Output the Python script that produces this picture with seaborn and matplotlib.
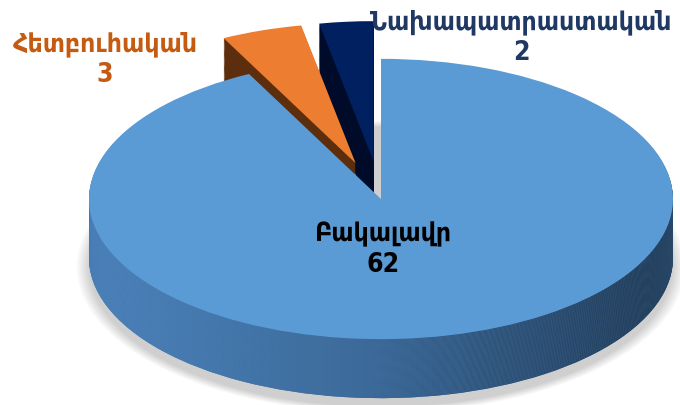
import matplotlib

matplotlib.use("Agg")
import matplotlib.pyplot as plt
import matplotlib.transforms as mtransforms
import numpy as np
import seaborn as sns
from matplotlib.colors import LinearSegmentedColormap

sns.set_theme(style="white")
plt.rcParams["font.family"] = ["DejaVu Sans"]

# data
categories = ["Բակալավր", "Հետբուհական", "Նախապատրաստական"]
counts = [62, 3, 2]

# styling
explode = [0.0, 0.27, 0.27]
top_colors = ["#5b9bd5", "#ed7d31", "#002060"]
side_colors = ["#3f6f9f", "#5c2e0e", "#000b2a"]
label_colors = ["#000000", "#c55a11", "#1f3864"]

W, H = 680, 406
cx, cy = 381, 200  # pie centre in pixels (from top-left)
rx = 292           # horizontal radius, px
squash = 0.48
depth = 59 / rx
n_layers = 55

fig = plt.figure(figsize=(W / 100, H / 100), dpi=100)
ax = fig.add_axes([0, 0, 1, 1])

side_cmap = LinearSegmentedColormap.from_list("side", ["#5089c4", "#3b6897", "#1d3249"])
grad = np.linspace(0, 1, 256).reshape(1, -1)


def draw_pie(z, colors, zorder, values=counts, expl=explode, scale=1.0, **kw):
    wedges, _ = ax.pie(
        values,
        explode=expl,
        startangle=90,
        counterclock=False,
        colors=colors,
        wedgeprops=dict(linewidth=0, **kw),
    )
    tr = (mtransforms.Affine2D().scale(scale, squash * scale).translate(0, -z)
          + ax.transData)
    for w in wedges:
        w.set_transform(tr)
        w.set_zorder(zorder)
    return wedges


# soft drop shadow under the disc
for k in range(8):
    draw_pie(depth + 0.03, ["#000000"], -1, values=[sum(counts)], expl=None,
             scale=1.0 + 0.006 * k, alpha=0.025)

# extruded side: stack of pies from the bottom up
for i, z in enumerate(np.linspace(depth, 0, n_layers, endpoint=False)):
    wedges = draw_pie(z, side_colors, i)
    im = ax.imshow(
        grad,
        cmap=side_cmap,
        extent=[-1.05, 1.05, -1.0, 0.6],
        aspect="auto",
        zorder=i,
        interpolation="bilinear",
    )
    im.set_clip_path(wedges[0])

# top surface
draw_pie(0, top_colors, n_layers + 1)

ax.set_xlim(-cx / rx, (W - cx) / rx)
ax.set_ylim(-(H - cy) / rx, cy / rx)
ax.set_aspect("auto")
ax.axis("off")

# labels
font = dict(fontweight="bold", fontstretch="condensed", ha="center", va="center")
label_pos = [(383, 250), (105, 60), (521, 38)]
for name, val, col, (px, py) in zip(categories, counts, label_colors, label_pos):
    fig.text(px / W, 1 - py / H, f"{name}\n{val}", color=col, fontsize=19,
             linespacing=1.25, **font)

fig.savefig("out.png", dpi=100)
